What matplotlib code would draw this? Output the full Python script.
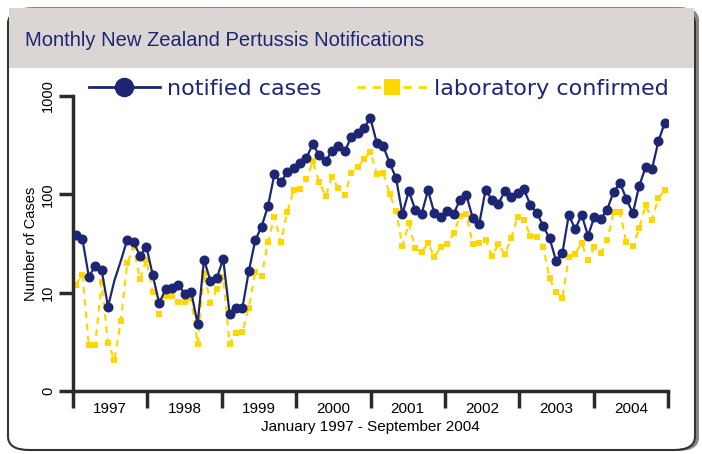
import numpy as np
import matplotlib
matplotlib.use("Agg")
import matplotlib.pyplot as plt
from matplotlib.lines import Line2D
from matplotlib.patches import FancyBboxPatch, Rectangle

# Monthly counts, January 1997 - September 2004
notified = [39, 35, 14.6, 18.5, 17, 7.2, 13.3, 21, 34.5, 33, 23.6, 29.3,
            15, 7.8, 10.9, 11.1, 12.1, 9.7, 10.2, 4.8, 21.7, 13.2, 14.1, 22,
            6.1, 7.0, 7.0, 16.5, 34, 47, 76, 160, 133, 167, 185, 207,
            235, 324, 249, 216, 277, 309, 274, 384, 424, 477, 594, 334,
            309, 209, 147, 63, 108, 70, 63, 110, 64, 59, 68, 63,
            88, 98, 57, 50, 111, 88, 80, 108, 95, 104, 112, 78,
            65, 47.5, 35.7, 21.2, 25.4, 62, 44, 62, 38, 59, 56, 70,
            106, 130, 90, 64, 122, 188, 181, 346, 537]
lab_confirmed = [12.1, 15.3, 2.95, 2.95, 12.7, 3.1, 2.06, 5.1, 19.9, 29, 13.7, 21.7,
                 10.1, 6.0, 9.2, 9.2, 8.1, 8.1, 8.8, 3.0, 15.8, 7.9, 10.8, 14.3,
                 3.0, 3.9, 4.0, 7.0, 16.1, 14.7, 33, 59, 32.5, 66, 110, 113,
                 142, 217, 133, 96, 149, 116, 98, 165, 188, 228, 270, 161,
                 165, 101, 68, 30, 50.6, 28.2, 25.8, 31.8, 23.1, 29, 31, 40,
                 60, 63, 31, 31.8, 34, 23.5, 31, 24.5, 35.7, 59, 55, 37.6,
                 36.5, 29, 14, 10.1, 8.9, 22.9, 25, 31.7, 21.4, 29, 25.6, 34,
                 65.6, 65.6, 32.4, 29.6, 45, 78, 55, 92, 110]
years = ["1997", "1998", "1999", "2000", "2001", "2002", "2003", "2004"]
ytick_vals = [1, 10, 100, 1000]
ytick_labels = ["0", "10", "100", "1000"]

navy = "#1c2673"
yellow = "#ffd700"
dark = "#2a2a2a"
narrow = ["Liberation Sans", "DejaVu Sans"]

fig = plt.figure(figsize=(7.02, 4.54), dpi=100)
W, H = 702, 454

# frame with title band
fig.patches.append(FancyBboxPatch((12 / W, 3 / H), 687 / W, 444 / H,
                                  boxstyle="round,pad=0,rounding_size=0.03",
                                  transform=fig.transFigure, facecolor="#8a8582",
                                  edgecolor="none", zorder=0))
fig.patches.append(FancyBboxPatch((8 / W, 4 / H), 687 / W, 440 / H,
                                  boxstyle="round,pad=0,rounding_size=0.03",
                                  transform=fig.transFigure, facecolor="white",
                                  edgecolor="#333333", linewidth=1.5, zorder=1))
fig.patches.append(Rectangle((9 / W, 1 - 68 / H), 685 / W, 60 / H,
                             transform=fig.transFigure, facecolor="#dbd6d3",
                             edgecolor="none", zorder=2))
fig.text(25 / W, 1 - 40 / H, "Monthly New Zealand Pertussis Notifications",
         color=navy, fontsize=14.5, family=narrow, va="center",
         ha="left", zorder=3)

ax = fig.add_axes([73 / W, 1 - 391 / H, (668 - 73) / W, (391 - 96) / H], zorder=4)
ax.patch.set_alpha(0)

x = np.arange(len(notified))
no_marker = {6, 7}
ax.plot(x, notified, color=navy, lw=1.6, marker="o", markersize=6.2,
        markevery=[i for i in x if i not in no_marker], zorder=3)
ax.plot(x, lab_confirmed, color=yellow, lw=1.6, ls=(0, (3, 2.5)), marker="s",
        markersize=5, markeredgewidth=0, zorder=2)

ax.set_yscale("log")
ax.set_ylim(1, 1000)
ax.set_yticks(ytick_vals)
ax.set_yticklabels(ytick_labels, rotation=90, va="center", fontsize=10.5,
                   family=narrow)
ax.yaxis.set_minor_locator(matplotlib.ticker.NullLocator())
ax.set_ylabel("Number of Cases", fontsize=10.5, family=narrow, labelpad=2)

x0, x1 = -0.47, 92.5
ax.set_xlim(x0, x1)
edges = np.linspace(x0, x1, len(years) + 1)
ax.set_xticks(edges)
ax.set_xticklabels([])
ax.set_xticks((edges[:-1] + edges[1:]) / 2, minor=True)
ax.set_xticklabels(years, minor=True, fontsize=11, family=narrow)
ax.tick_params(axis="x", which="major", direction="out", length=12, width=2.5, color=dark)
ax.tick_params(axis="x", which="minor", length=0, pad=8)
ax.tick_params(axis="y", which="major", direction="out", length=10, width=2.5, color=dark, pad=3)
ax.set_xlabel("January 1997 - September 2004", fontsize=11, family=narrow, labelpad=3)

for s in ["top", "right"]:
    ax.spines[s].set_visible(False)
for s in ["left", "bottom"]:
    ax.spines[s].set_linewidth(2.5)
    ax.spines[s].set_color(dark)

handles = [Line2D([], [], color=navy, lw=2, marker="o", markersize=13),
           Line2D([], [], color=yellow, lw=2, ls=(0, (3, 2.5)), marker="s",
                  markersize=12, markeredgewidth=0)]
fig.legend(handles, ["notified cases", "laboratory confirmed"], ncol=2,
           loc="center", bbox_to_anchor=(379 / W, 1 - 89 / H), frameon=False,
           fontsize=16, labelcolor=navy, handlelength=3.2, columnspacing=1.6,
           handletextpad=0.3)

fig.savefig("out.png", dpi=100)
